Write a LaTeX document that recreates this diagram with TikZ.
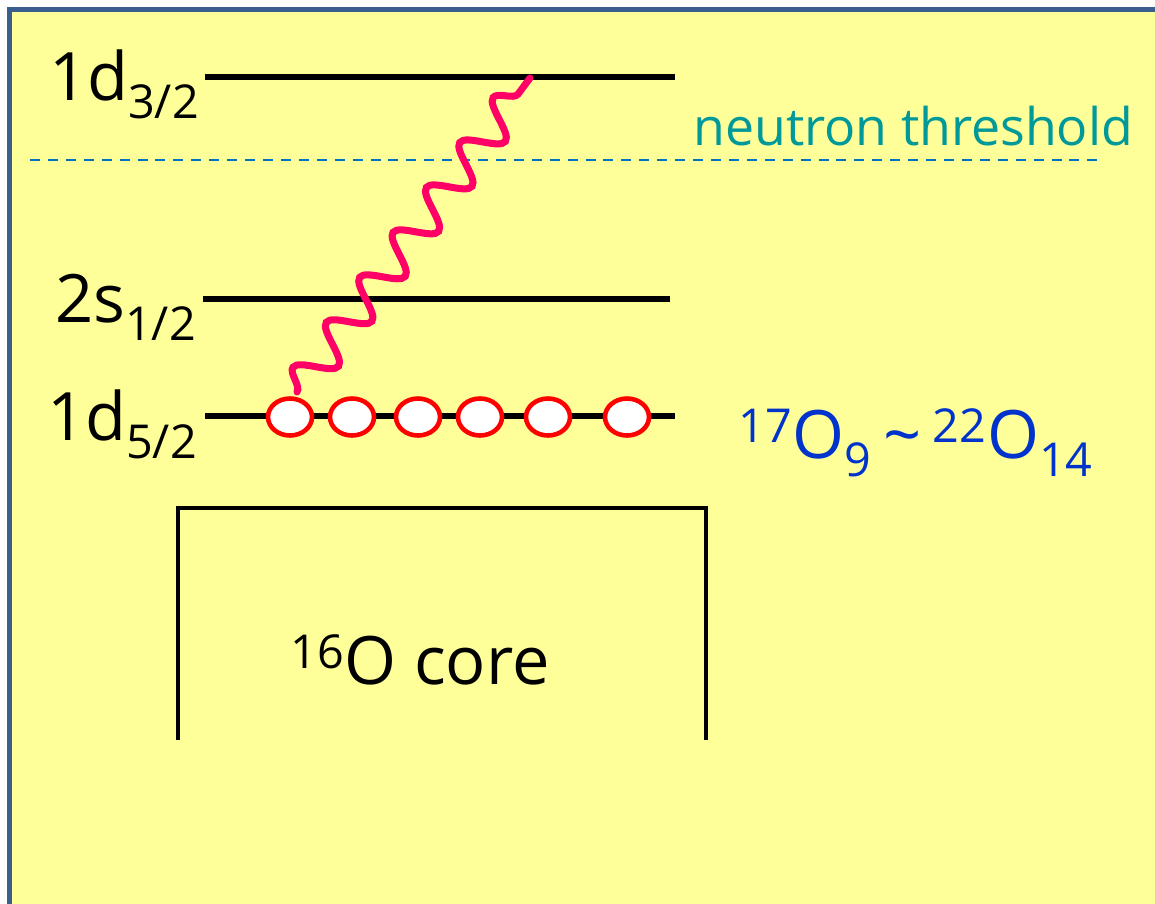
\documentclass[tikz,border=0pt]{standalone}
\usepackage{fontspec}
\setmainfont{Open Sans}
\usepackage{xcolor}
\definecolor{slideYellow}{HTML}{FFFF99}
\definecolor{frameBlue}{HTML}{3A5F8E}
\definecolor{threshTeal}{HTML}{009999}
\definecolor{threshBlue}{HTML}{0070C0}
\definecolor{waveMagenta}{HTML}{FF0066}
\definecolor{isoBlue}{HTML}{0033CC}
\usetikzlibrary{decorations.pathmorphing, shapes.geometric, positioning}

\begin{document}
\begin{tikzpicture}[
		x=0.02cm, y=-0.02cm,
		level/.style={line width=3.2pt},
		lvllabel/.style={
			anchor=base east,
			inner sep=0pt,
			font=\fontsize{38}{40}\selectfont
		},
		particle/.style={
			ellipse,
			draw=red,
			fill=white,
			line width=2.6pt,
			minimum width=0.88cm,
			minimum height=0.74cm,
			inner sep=0pt
		},
		wave/.style={
			waveMagenta,
			line width=4pt,
			line cap=round,
			decorate,
			decoration={snake, segment length=1.12cm, amplitude=0.36cm}
		}
		]
		
		\useasboundingbox (0,0) rectangle (1155,903);
		\fill[white] (0,0) rectangle (1155,903);
		\fill[slideYellow] (9.5,9.5) rectangle (1160,910);
		\draw[frameBlue, line width=3pt] (9.5,910) -- (9.5,9.5) -- (1160,9.5);
		
		% single particle levels
		\coordinate (d32l) at (205,77);
		\coordinate (d32r) at (675,77);
		\coordinate (s12l) at (203,299);
		\coordinate (s12r) at (670,299);
		\coordinate (d52l) at (205,416);
		\coordinate (d52r) at (675,416);
		
		\draw[level] (d32l) -- (d32r);
		\draw[level] (s12l) -- (s12r);
		\draw[level] (d52l) -- (d52r);
		
		\node[lvllabel] (d32) at (200,100) {1d\textsubscript{3/2}};
		\node[lvllabel] (s12) at (197,322) {2s\textsubscript{1/2}};
		\node[lvllabel] (d52) at (198,440) {1d\textsubscript{5/2}};
		
		% threshold
		\coordinate (thl) at (30,160);
		\coordinate (thr) at (1103,160);
		\draw[threshBlue, line width=1.4pt, dash pattern=on 5.7pt off 4.5pt] (thl) -- (thr);
		\node[anchor=base west, inner sep=0pt, text=threshTeal, font=\fontsize{29.5}{32}\selectfont]
			(thresh) at (693,145) {neutron threshold};
		
		% excitation
		\coordinate (wavefrom) at (297,392);
		\coordinate (waveto) at (530,78);
		\draw[wave] (wavefrom) -- (waveto);
		
		% valence neutrons
		\foreach \x [count=\i] in {290,352,418,480,548,627}
			\node[particle] (n\i) at (\x,417) {};
		
		\node[anchor=base west, inner sep=0pt, text=isoBlue, font=\fontsize{38}{40}\selectfont]
			(iso) at (738,458) {\textsuperscript{17}O\textsubscript{9}\,\textasciitilde\,\textsuperscript{22}O\textsubscript{14}};
		
		% core
		\coordinate (cbl) at (178,740);
		\coordinate (ctl) at (178,508);
		\coordinate (ctr) at (706,508);
		\coordinate (cbr) at (706,740);
		\draw[line width=2.6pt] (cbl) -- (ctl) -- (ctr) -- (cbr);
		\node[font=\fontsize{38}{40}\selectfont] (core) at (420,660) {\textsuperscript{16}O core};
		
	\end{tikzpicture}
\end{document}
